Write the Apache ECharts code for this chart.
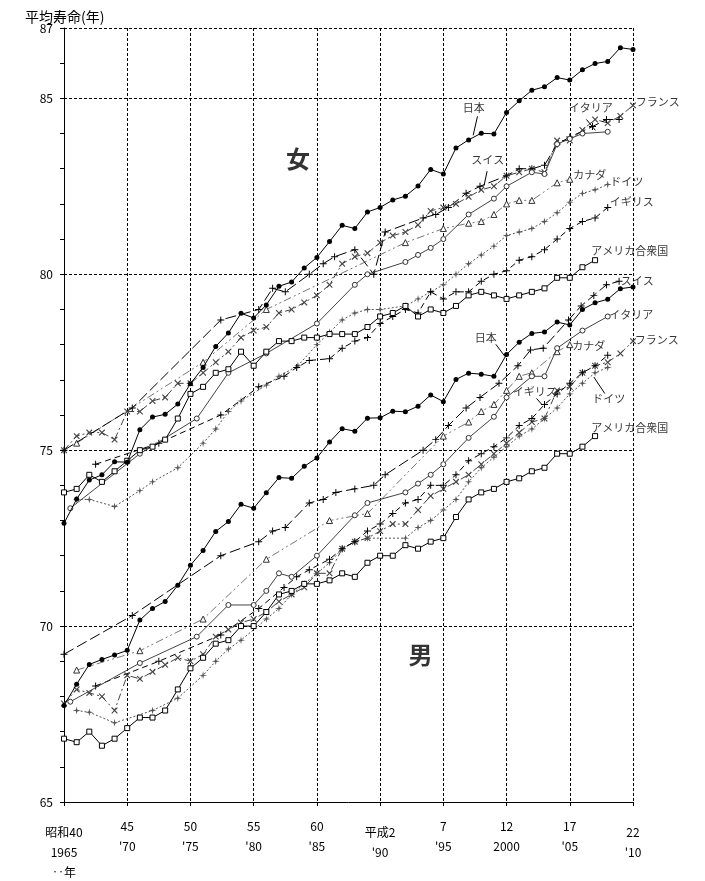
<!DOCTYPE html>
<html><head><meta charset="utf-8">
<script src="https://cdn.jsdelivr.net/npm/echarts@6/dist/echarts.min.js"></script>
<style>html,body{margin:0;padding:0;background:#fff}#c{width:705px;height:881px}</style>
</head><body><div id="c"></div>
<script>
// ---- data ----
const startYear = 1965;
const japanF = [72.92,73.61,74.15,74.30,74.67,74.66,75.58,75.94,76.02,76.31,76.89,77.35,77.95,78.33,78.89,78.76,79.13,79.66,79.78,80.18,80.48,80.93,81.39,81.30,81.77,81.90,82.11,82.22,82.51,82.98,82.85,83.59,83.82,84.01,83.99,84.60,84.93,85.23,85.33,85.59,85.52,85.81,85.99,86.05,86.44,86.39];
const japanM = [67.74,68.35,68.91,69.05,69.18,69.31,70.17,70.50,70.70,71.16,71.73,72.15,72.69,72.97,73.46,73.35,73.79,74.22,74.20,74.54,74.78,75.23,75.61,75.54,75.91,75.92,76.11,76.09,76.25,76.57,76.38,77.01,77.19,77.16,77.10,77.72,78.07,78.32,78.36,78.64,78.56,79.00,79.19,79.29,79.59,79.64];
const usaF = [73.8,73.9,74.3,74.1,74.4,74.7,75.0,75.1,75.3,75.9,76.6,76.8,77.2,77.3,77.8,77.4,77.8,78.1,78.1,78.2,78.2,78.3,78.3,78.3,78.5,78.8,78.9,79.1,78.8,79.0,78.9,79.1,79.4,79.5,79.4,79.3,79.4,79.5,79.6,79.9,79.9,80.2,80.4];
const usaM = [66.8,66.7,67.0,66.6,66.8,67.1,67.4,67.4,67.6,68.2,68.8,69.1,69.5,69.6,70.0,70.0,70.4,70.9,71.0,71.2,71.2,71.3,71.5,71.4,71.8,72.0,72.0,72.3,72.2,72.4,72.5,73.1,73.6,73.8,73.9,74.1,74.2,74.4,74.5,74.9,74.9,75.1,75.4];
const franceF = [75.0,75.4,75.5,75.5,75.3,76.1,76.1,76.4,76.5,76.9,76.9,77.2,77.5,77.8,78.2,78.4,78.5,78.9,79.0,79.2,79.4,79.7,80.3,80.5,80.6,80.9,81.1,81.2,81.4,81.8,81.9,82.0,82.2,82.4,82.5,82.8,82.9,83.0,82.9,83.8,83.8,84.1,84.4,84.3,84.5,84.8];
const franceM = [67.8,68.2,68.1,68.0,67.6,68.6,68.5,68.7,68.9,69.1,69.0,69.2,69.7,69.9,70.1,70.2,70.4,70.7,70.9,71.1,71.5,71.5,72.2,72.4,72.5,72.7,72.9,72.9,73.3,73.7,73.9,74.1,74.3,74.6,74.9,75.2,75.5,75.8,75.9,76.7,76.8,77.2,77.4,77.5,77.75,78.1];
const swissF = [[1965,75.0],[1970.4,76.2],[1977.4,78.7],[1980.4,79.0],[1981.5,79.6],[1982.5,79.5],[1984.4,80.0],[1985.5,80.3],[1986.4,80.5],[1988,80.7],[1989.5,80.0],[1990.4,81.2],[1993.4,81.6],[1994.4,81.7],[1995.4,81.9],[1996.8,82.3],[1997.9,82.5],[2000,82.8],[2001,83.0],[2002,83.0],[2003,83.1],[2004,83.7],[2005,83.9],[2006.8,84.2],[2007.9,84.4],[2008.9,84.4]];
const swissM = [[1965,69.2],[1970.4,70.3],[1977.4,72.0],[1980.4,72.4],[1981.5,72.7],[1982.5,72.8],[1984.4,73.5],[1985.5,73.6],[1986.5,73.8],[1988,73.9],[1989.5,74.0],[1990.4,74.3],[1993.4,75.0],[1994.4,75.3],[1995.4,75.7],[1996.8,76.2],[1997.9,76.5],[1999.4,76.9],[2000.9,77.4],[2001.9,77.85],[2002.9,77.9],[2004.9,78.7],[2005.9,79.1],[2006.9,79.4],[2007.9,79.7],[2008.9,79.8]];
const ukF = [[1967.5,74.6],[1972.5,75.2],[1977.4,76.0],[1980.4,76.8],[1982.4,77.1],[1983.4,77.35],[1984.4,77.55],[1986,77.6],[1987,77.9],[1988,78.1],[1989,78.2],[1990,78.6],[1991,78.8],[1992,79.0],[1993,78.9],[1994,79.5],[1995,79.3],[1996,79.5],[1997,79.5],[1998,79.8],[1999,80.0],[2000,80.1],[2001,80.4],[2002,80.5],[2003,80.7],[2004,81.0],[2005,81.3],[2006,81.5],[2007,81.6],[2008,81.9]];
const ukM = [[1967.5,68.3],[1972.5,69.0],[1977.4,69.75],[1980.4,70.5],[1982.4,71.1],[1983.4,71.4],[1984.4,71.6],[1986,71.9],[1987,72.2],[1988,72.4],[1989,72.7],[1990,72.9],[1991,73.2],[1992,73.5],[1993,73.6],[1994,74.0],[1995,74.0],[1996,74.3],[1997,74.7],[1998,74.9],[1999,75.1],[2000,75.35],[2001,75.7],[2002,75.9],[2003,76.3],[2004,76.6],[2005,76.9],[2006,77.2],[2007,77.4],[2008,77.7]];
const italyF = [[1965.5,73.35],[1971,74.9],[1975.5,75.9],[1978,77.2],[1981,77.75],[1985,78.6],[1988,79.7],[1989,80.0],[1992,80.35],[1993,80.55],[1994,80.75],[1995,81.0],[1997,81.7],[1999,82.15],[2000,82.5],[2002,82.9],[2003,82.85],[2004,83.7],[2005,83.85],[2006,84.0],[2008,84.05]];
const italyM = [[1965.5,67.85],[1971,68.95],[1975.5,69.7],[1978,70.6],[1980,70.6],[1981,71.0],[1982,71.5],[1983,71.4],[1985,72.0],[1988,73.15],[1989,73.5],[1992,73.8],[1993,74.05],[1994,74.3],[1995,74.6],[1997,75.35],[1999,75.95],[2000,76.5],[2002,77.1],[2003,77.1],[2004,77.9],[2006,78.4],[2008,78.8]];
const canadaF = [[1966,75.2],[1976,77.5],[1981,79.0],[1992,80.9],[1995,81.3],[1997,81.45],[1998,81.5],[1999,81.7],[2000,82.0],[2001,82.1],[2002,82.1],[2004,82.6],[2005,82.7]];
const canadaM = [[1966,68.75],[1971,69.3],[1976,70.2],[1981,71.9],[1986,73.0],[1989,73.2],[1995,75.4],[1997,75.8],[1998,76.1],[1999,76.3],[2000,76.7],[2001,77.1],[2002,77.2],[2004,77.8],[2005,78.0]];
const germanyF = [[1966,73.6],[1967,73.6],[1969,73.4],[1971,73.85],[1972,74.1],[1974,74.5],[1976,75.2],[1977,75.6],[1978,76.1],[1979,76.4],[1981,76.85],[1982,77.1],[1983.5,77.4],[1985,78.0],[1986,78.35],[1987,78.7],[1988,78.9],[1989,79.0],[1990,79.0],[1992,79.1],[1993,79.3],[1994,79.5],[1995,79.7],[1996,80.0],[1997,80.3],[1998,80.55],[1999,80.8],[2000,81.1],[2001,81.2],[2002,81.3],[2003,81.5],[2004,81.75],[2005,82.05],[2006,82.3],[2007,82.4],[2008,82.55]];
const germanyM = [[1966,67.6],[1967,67.55],[1969,67.25],[1972,67.6],[1974,67.95],[1976,68.6],[1977,69.0],[1978,69.35],[1979,69.6],[1981,70.2],[1982,70.5],[1983,70.9],[1984,71.2],[1985,71.5],[1986,71.8],[1987,72.2],[1988,72.4],[1989,72.5],[1992,72.5],[1993,72.8],[1994,73.0],[1995,73.3],[1996,73.6],[1997,74.1],[1998,74.5],[1999,74.8],[2000,75.1],[2001,75.4],[2002,75.6],[2003,75.9],[2004,76.2],[2005,76.6],[2006,76.9],[2007,77.2],[2008,77.35]];
const xTickLabels = ['昭和40\n1965\n‥年', "45\n'70", "50\n'75", "55\n'80", "60\n'85", "平成2\n'90", "7\n'95", "12\n2000", "17\n'05", "22\n'10"];
const xLowLabels = [1965, 1990, 2010];
const yTickLabels = [65, 70, 75, 80, 85, 87];
const countryLabels = [
  ['日本', 1997.41, 84.74], ['イタリア', 2006.66, 84.72], ['フランス', 2011.96, 84.89], ['スイス', 1998.52, 83.24],
  ['カナダ', 2006.58, 82.84], ['ドイツ', 2009.51, 82.64], ['イギリス', 2009.90, 82.05], ['アメリカ合衆国', 2009.74, 80.68],
  ['スイス', 2010.34, 79.80], ['イタリア', 2009.86, 78.84], ['フランス', 2011.88, 78.15], ['日本', 1998.36, 78.18],
  ['カナダ', 2006.50, 77.98], ['イギリス', 2002.23, 76.65], ['ドイツ', 2008.08, 76.45], ['アメリカ合衆国', 2009.74, 75.65]
];
const sexLabels = [['女', 1983.5, 83.27], ['男', 1993.2, 69.18]];
const leaders = [
  [[1997.70, 84.49], [1997.36, 83.95]],
  [[2006.32, 84.40], [2007.03, 84.09]],
  [[1998.46, 82.93], [1998.22, 82.52]],
  [[1999.15, 78.01], [1999.86, 77.67]],
  [[2002.37, 76.47], [2002.84, 76.28]],
  [[2003.81, 76.61], [2004.21, 76.72]],
  [[2007.77, 76.61], [2006.90, 77.08]]
];

// ---- build ----
const annual = arr => arr.map((v, i) => [startYear + i, v]);
const FONT = 'Noto Sans CJK JP';
const PLUS = 'path://M4.3,0H5.7V4.3H10V5.7H5.7V10H4.3V5.7H0V4.3H4.3Z';
const STAR = 'path://M5,0L5.9,4.1L10,5L5.9,5.9L5,10L4.1,5.9L0,5L4.1,4.1Z';
const styles = {
  japan:   {symbol: 'circle', size: 5, color: '#000', border: '#000', fill: '#000', type: 'solid', bw: 0},
  usa:     {symbol: 'rect', size: 5, color: '#000', border: '#000', fill: '#fff', type: 'solid', bw: 1},
  italy:   {symbol: 'circle', size: 5, color: '#444', border: '#333', fill: '#fff', type: 'solid', bw: 1},
  swiss:   {symbol: PLUS, size: 7, color: '#000', border: '#000', fill: '#000', type: [11, 4], bw: 0},
  uk:      {symbol: PLUS, size: 7, color: '#000', border: '#000', fill: '#000', type: [6, 4], bw: 0},
  canada:  {symbol: 'triangle', size: 6, color: '#777', border: '#333', fill: '#fff', type: [8, 3, 2, 3, 2, 3], bw: 1},
  france:  {symbol: PLUS, size: 8, color: '#444', border: '#444', fill: '#444', type: [7, 3, 2, 3], bw: 0, rotate: 45},
  germany: {symbol: STAR, size: 8, color: '#555', border: '#555', fill: '#555', type: [2, 2], bw: 0}
};
function mk(name, data, st, z) {
  return {
    name, type: 'line', data, symbol: st.symbol, symbolSize: st.size, symbolRotate: st.rotate || 0,
    showAllSymbol: true, clip: false, z: z,
    itemStyle: {color: st.fill, borderColor: st.border, borderWidth: st.bw},
    lineStyle: {color: st.color, type: st.type, width: 1},
    emphasis: {disabled: true}, animation: false
  };
}
const series = [
  mk('ドイツ女', germanyF, styles.germany, 3), mk('ドイツ男', germanyM, styles.germany, 3),
  mk('カナダ女', canadaF, styles.canada, 3), mk('カナダ男', canadaM, styles.canada, 3),
  mk('フランス女', annual(franceF), styles.france, 4), mk('フランス男', annual(franceM), styles.france, 4),
  mk('イギリス女', ukF, styles.uk, 4), mk('イギリス男', ukM, styles.uk, 4),
  mk('スイス女', swissF, styles.swiss, 4), mk('スイス男', swissM, styles.swiss, 4),
  mk('イタリア女', italyF, styles.italy, 5), mk('イタリア男', italyM, styles.italy, 5),
  mk('アメリカ女', annual(usaF), styles.usa, 5), mk('アメリカ男', annual(usaM), styles.usa, 5),
  mk('日本女', annual(japanF), styles.japan, 6), mk('日本男', annual(japanM), styles.japan, 6),
  {
    type: 'scatter', symbolSize: 0, clip: false, z: 10, silent: true, animation: false,
    data: countryLabels.map(d => ({value: [d[1], d[2]], name: d[0]})),
    label: {show: true, position: 'inside', formatter: p => p.name, color: '#000', fontSize: 11, fontFamily: FONT}
  },
  {
    type: 'scatter', symbolSize: 0, clip: false, z: 10, silent: true, animation: false,
    data: sexLabels.map(d => ({value: [d[1], d[2]], name: d[0]})),
    label: {show: true, position: 'inside', formatter: p => p.name, color: '#000', fontSize: 24, fontWeight: 'bold', fontFamily: FONT}
  }
].concat(leaders.map(l => ({
  type: 'line', data: l, symbol: 'none', clip: false, z: 9, silent: true, animation: false,
  lineStyle: {color: '#000', width: 1}
})));

const chart = echarts.init(document.getElementById('c'), null, {renderer: 'canvas'});
chart.setOption({
  backgroundColor: '#fff',
  animation: false,
  title: {text: '平均寿命(年)', left: 20, top: 5, textStyle: {fontFamily: FONT, fontSize: 14, fontWeight: 'normal', color: '#000'}},
  grid: {left: 64, right: 72, top: 28, bottom: 79},
  xAxis: {
    type: 'value', min: 1965, max: 2010, interval: 5,
    axisLine: {lineStyle: {color: '#000', width: 1}},
    axisTick: {show: true, length: 4, lineStyle: {color: '#000'}},
    splitLine: {show: true, lineStyle: {color: '#000', type: [3, 2], width: 1}},
    axisLabel: {
      margin: 14, color: '#000', fontFamily: FONT, fontSize: 12,
      formatter: v => {
        const s = xTickLabels[Math.round((v - 1965) / 5)];
        if (!s) return '';
        const body = s.split('\n').map(t => '{n|' + t + '}').join('\n');
        return xLowLabels.indexOf(v) >= 0 ? '{sp| }\n' + body : body;
      },
      rich: {
        n: {lineHeight: 20, fontFamily: FONT, fontSize: 12, color: '#000'},
        sp: {lineHeight: 6, fontSize: 1}
      }
    }
  },
  yAxis: [{
    type: 'value', min: 65, max: 87, interval: 1,
    axisLine: {show: true, lineStyle: {color: '#000', width: 1}},
    axisTick: {show: true, length: 4, lineStyle: {color: '#000'}},
    splitLine: {show: false},
    axisLabel: {margin: 11, color: '#000', fontFamily: FONT, fontSize: 12,
      formatter: v => yTickLabels.indexOf(v) >= 0 ? String(v) : ''}
  }, {
    type: 'value', min: 65, max: 87, interval: 5, position: 'right',
    axisLine: {show: false}, axisTick: {show: false}, axisLabel: {show: false},
    splitLine: {show: true, lineStyle: {color: '#000', type: [3, 2], width: 1}}
  }],
  series: series
});
</script></body></html>
